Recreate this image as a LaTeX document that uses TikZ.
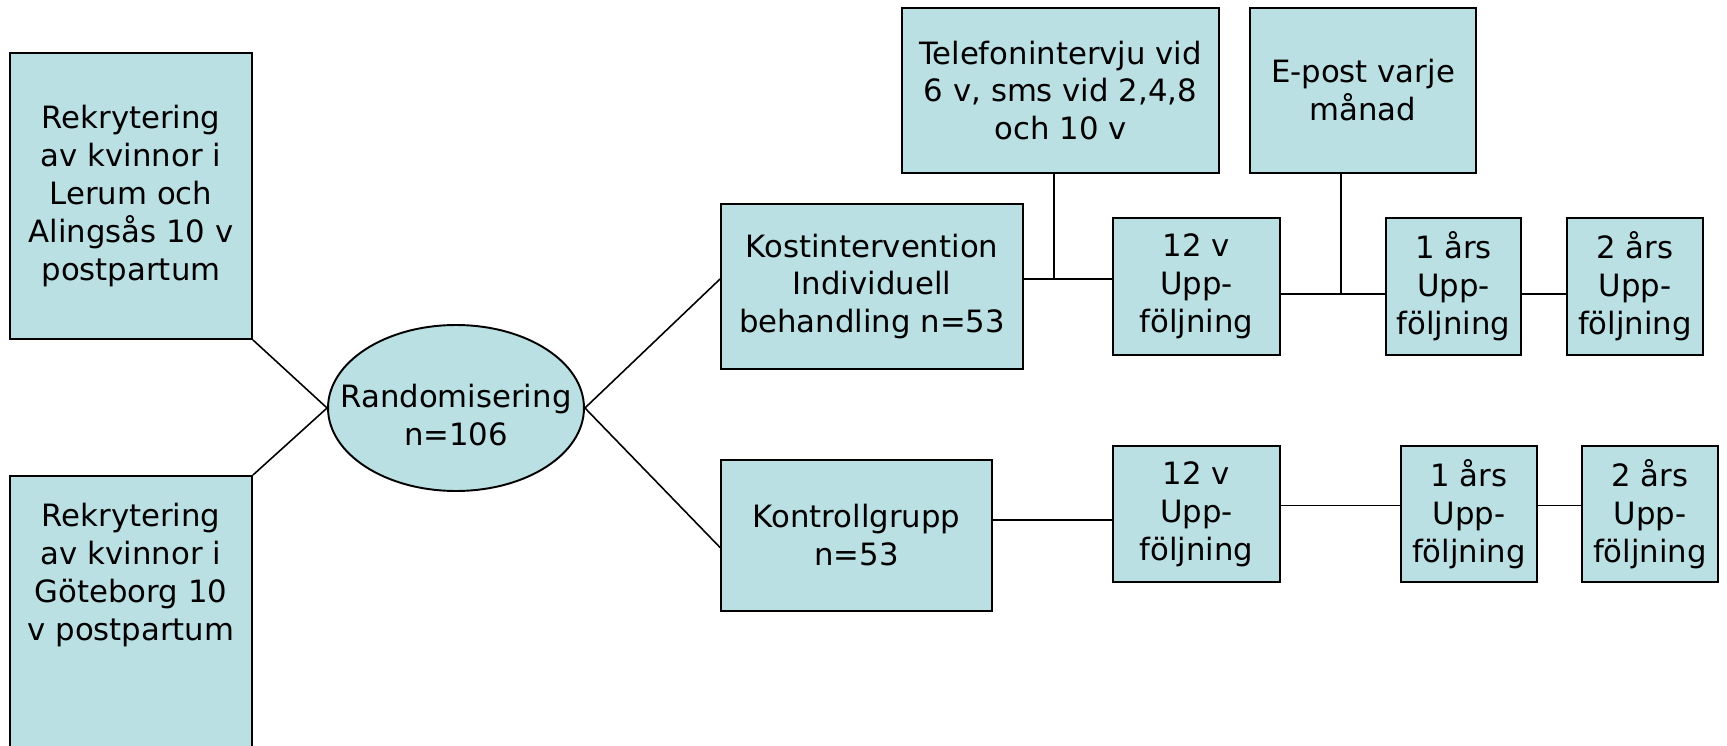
\documentclass[tikz,border=0pt]{standalone}
\usepackage{fontspec}
\setmainfont{DejaVu Sans}
\usetikzlibrary{shapes.geometric,calc}
\definecolor{boxfill}{RGB}{186,224,228}
\begin{document}
\begin{tikzpicture}[x=0.02cm,y=-0.02cm,
  txt/.style={align=center, font=\fontsize{17.5}{21.6}\selectfont},
  box/.style={txt, draw=black, fill=boxfill, line width=1.1pt, inner sep=0pt},
  conn/.style={draw=black, line width=0.9pt}]
\useasboundingbox (0,0) rectangle (1727,746);
\clip (0,0) rectangle (1727,746);
% left column
\node[box, minimum width=4.84cm, minimum height=5.72cm] (l1) at (131,196)
  {Rekrytering\\av kvinnor i\\Lerum och\\Alingsås 10 v\\postpartum};
\node[box, minimum width=4.84cm, minimum height=5.68cm] (l2) at (131,618) {};
\node[txt] (l2t) at (131,575) {Rekrytering\\av kvinnor i\\Göteborg 10\\v postpartum};
% randomisation
\node[box, ellipse, minimum width=5.12cm, minimum height=3.32cm] (r) at (456,408) {};
\node[txt] (rt) at (456,415) {Randomisering\\n=106};
% groups
\node[box, minimum width=6.04cm, minimum height=3.3cm] (k) at (872,286.5)
  {Kostintervention\\Individuell\\behandling n=53};
\node[box, minimum width=5.42cm, minimum height=3.02cm] (c) at (856.5,535.5)
  {Kontrollgrupp\\n=53};
% top info boxes
\node[box, minimum width=6.34cm, minimum height=3.3cm] (t) at (1060.5,90.5)
  {Telefonintervju vid\\6 v, sms vid 2,4,8\\och 10 v};
\node[box, minimum width=4.52cm, minimum height=3.3cm] (e) at (1363,90.5)
  {E-post varje\\månad};
% follow-ups, intervention
\node[box, minimum width=3.34cm, minimum height=2.74cm] (u1) at (1196.5,286.5) {12 v\\Upp-\\följning};
\node[box, minimum width=2.7cm, minimum height=2.74cm] (u2) at (1453.5,286.5) {1 års\\Upp-\\följning};
\node[box, minimum width=2.72cm, minimum height=2.74cm] (u3) at (1635,286.5) {2 års\\Upp-\\följning};
% follow-ups, control
\node[box, minimum width=3.34cm, minimum height=2.72cm] (d1) at (1196.5,514) {12 v\\Upp-\\följning};
\node[box, minimum width=2.72cm, minimum height=2.72cm] (d2) at (1469,514) {1 års\\Upp-\\följning};
\node[box, minimum width=2.72cm, minimum height=2.72cm] (d3) at (1650,514) {2 års\\Upp-\\följning};
% helper levels
\coordinate (ya) at (0,279);
\coordinate (yb) at (0,294);
\coordinate (yc) at (0,520);
\coordinate (yd) at (0,505.5);
% connectors
\draw[conn] (l1.south east) -- (r.west);
\draw[conn] (l2.north east) -- (r.west);
\draw[conn] (r.east) -- (k.west |- ya);
\draw[conn] (r.east) -- ([yshift=-0.24cm]c.west);
\draw[conn] (k.east |- ya) -- (u1.west |- ya);
\draw[conn] ([xshift=-0.13cm]t.south) -- ([xshift=-0.13cm]t.south |- ya);
\draw[conn] (u1.east |- yb) -- (u2.west |- yb);
\draw[conn] (u2.east |- yb) -- (u3.west |- yb);
\draw[conn] ([xshift=-0.44cm]e.south) -- ([xshift=-0.44cm]e.south |- yb);
\draw[conn] (c.east |- yc) -- (d1.west |- yc);
\draw[conn] (d1.east |- yd) -- (d2.west |- yd);
\draw[conn] (d2.east |- yd) -- (d3.west |- yd);
\end{tikzpicture}
\end{document}
